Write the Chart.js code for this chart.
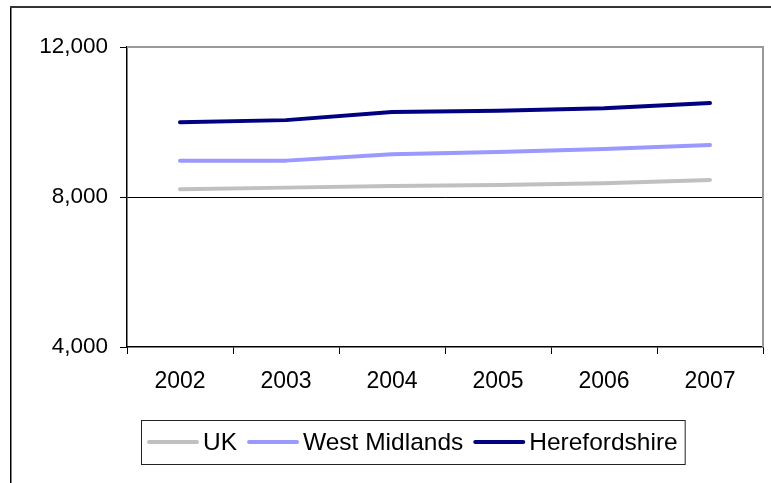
<!DOCTYPE html>
<html>
<head>
<meta charset="utf-8">
<script src="https://cdn.jsdelivr.net/npm/chart.js@4.4.1/dist/chart.umd.min.js"></script>
<style>
html,body{margin:0;padding:0;background:#fff;}
#wrap{width:771px;height:483px;position:relative;}
</style>
</head>
<body>
<div id="wrap"><canvas id="c" width="771" height="483"></canvas></div>
<script>
const years = ['2002','2003','2004','2005','2006','2007'];
const ukValues = [8205, 8250, 8295, 8320, 8365, 8455];
const westMidlandsValues = [8968, 8970, 9140, 9200, 9280, 9387];
const herefordshireValues = [9995, 10050, 10265, 10300, 10365, 10505];
const yTicks = [4000, 8000, 12000];

const FONT = '"Liberation Sans", Arial, sans-serif';

const framePlugin = {
  id: 'frame',
  beforeDraw(chart) {
    const ctx = chart.ctx;
    ctx.save();
    ctx.fillStyle = '#fff';
    ctx.fillRect(0, 0, chart.width, chart.height);
    ctx.strokeStyle = '#000';
    ctx.lineWidth = 1.5;
    ctx.beginPath();
    ctx.moveTo(10.75, 6);
    ctx.lineTo(10.75, chart.height);
    ctx.stroke();
    ctx.strokeStyle = '#333';
    ctx.lineWidth = 2;
    ctx.beginPath();
    ctx.moveTo(10, 7);
    ctx.lineTo(chart.width, 7);
    ctx.stroke();
    ctx.restore();
  },
  beforeDatasetsDraw(chart) {
    const ctx = chart.ctx;
    const a = chart.chartArea;
    ctx.save();
    ctx.strokeStyle = '#999';
    ctx.lineWidth = 2;
    ctx.beginPath();
    ctx.moveTo(a.left, a.top);
    ctx.lineTo(a.right, a.top);
    ctx.lineTo(a.right, a.bottom);
    ctx.stroke();
    ctx.restore();
  },
  afterDraw(chart) {
    const ctx = chart.ctx;
    ctx.save();
    ctx.font = '24.5px ' + FONT;
    ctx.textBaseline = 'middle';
    ctx.textAlign = 'left';
    const left = 141, top = 420, bottom = 464;
    const cy = (top + bottom) / 2;
    let x = left + 8;
    chart.data.datasets.forEach((ds, i) => {
      ctx.strokeStyle = ds.borderColor;
      ctx.lineWidth = 4;
      ctx.lineCap = 'round';
      ctx.beginPath();
      ctx.moveTo(x, cy);
      ctx.lineTo(x + 48, cy);
      ctx.stroke();
      x += 54;
      ctx.fillStyle = '#000';
      ctx.fillText(ds.label, x, cy + 1);
      x += ctx.measureText(ds.label).width + 12;
    });
    const right = x - 12 + 7;
    ctx.strokeStyle = '#222';
    ctx.lineWidth = 1;
    ctx.strokeRect(left + 0.5, top + 0.5, right - left, bottom - top);
    ctx.restore();
  }
};

new Chart(document.getElementById('c'), {
  type: 'line',
  data: {
    labels: years,
    datasets: [
      { label: 'UK', data: ukValues, borderColor: '#C0C0C0', backgroundColor: '#C0C0C0' },
      { label: 'West Midlands', data: westMidlandsValues, borderColor: '#9999FF', backgroundColor: '#9999FF' },
      { label: 'Herefordshire', data: herefordshireValues, borderColor: '#000080', backgroundColor: '#000080' }
    ]
  },
  options: {
    responsive: false,
    animation: false,
    devicePixelRatio: 1,
    layout: { padding: { top: 47, right: 8, bottom: 0, left: 0 } },
    elements: {
      line: { borderWidth: 4, tension: 0, borderCapStyle: 'round', borderJoinStyle: 'round' },
      point: { radius: 0, hoverRadius: 0 }
    },
    plugins: {
      legend: { display: false },
      tooltip: { enabled: false },
      title: { display: false }
    },
    scales: {
      x: {
        offset: true,
        afterFit: s => { s.height = 483 - 347; },
        border: { display: true, color: '#000', width: 1.5 },
        grid: { offset: true, drawOnChartArea: false, drawTicks: true, tickLength: 7, color: '#000', tickColor: '#000', lineWidth: 1 },
        ticks: { color: '#000', padding: 14, font: { family: FONT, size: 23 }, maxRotation: 0 }
      },
      y: {
        min: 4000,
        max: 12000,
        afterFit: s => { s.width = 127; },
        afterBuildTicks: s => { s.ticks = yTicks.map(v => ({ value: v })); },
        border: { display: true, color: '#000', width: 1.5 },
        grid: {
          drawTicks: true,
          tickLength: 7,
          tickColor: '#000',
          lineWidth: 1,
          color: ctx => (ctx.tick && ctx.tick.value === 8000) ? '#000' : 'rgba(0,0,0,0)'
        },
        ticks: {
          color: '#000',
          padding: 12,
          font: { family: FONT, size: 22.5 },
          callback: v => Number(v).toLocaleString('en-US')
        }
      }
    }
  },
  plugins: [framePlugin]
});
</script>
</body>
</html>
